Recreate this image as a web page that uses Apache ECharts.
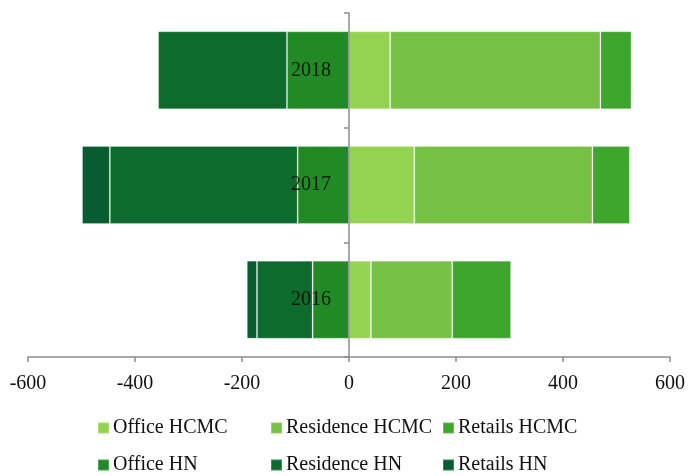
<!DOCTYPE html>
<html>
<head>
<meta charset="utf-8">
<script src="https://cdn.jsdelivr.net/npm/echarts@6/dist/echarts.min.js"></script>
<style>
  html, body { margin: 0; padding: 0; background: #fff; }
  #chart { width: 689px; height: 476px; }
</style>
</head>
<body>
<div id="chart"></div>
<script>
// Years on the category axis (bottom to top)
var years = ['2016', '2017', '2018'];

// HCMC supply (plotted to the right)
var officeHCMC = [41, 122, 77];
var residenceHCMC = [152, 333, 393];
var retailsHCMC = [110, 70, 58];

// HN supply (plotted to the left as negative values)
var officeHN = [-68, -96, -116];
var residenceHN = [-104, -351, -241];
var retailsHN = [-19, -52, 0];

// Value axis ticks
var xMin = -600, xMax = 600, xStep = 200;

var seriesDefs = [
  { name: 'Office HCMC', data: officeHCMC, color: '#94D251' },
  { name: 'Residence HCMC', data: residenceHCMC, color: '#76C143' },
  { name: 'Retails HCMC', data: retailsHCMC, color: '#3EA52D' },
  { name: 'Office HN', data: officeHN, color: '#228A24' },
  { name: 'Residence HN', data: residenceHN, color: '#0C6B2D' },
  { name: 'Retails HN', data: retailsHN, color: '#075D30' }
];

var font = '"Liberation Serif", "Times New Roman", serif';
var axisGrey = '#8c8c8c';

var chart = echarts.init(document.getElementById('chart'), null, { renderer: 'canvas' });

// One legend per entry so the three columns line up on both rows
var legendCols = [97, 270, 442];
var legendRows = [418, 455];
var legends = seriesDefs.map(function (s, i) {
  return {
    data: [s.name],
    left: legendCols[i % 3],
    top: legendRows[Math.floor(i / 3)],
    padding: 0,
    itemWidth: 11,
    itemHeight: 11,
    itemGap: 0,
    icon: 'rect',
    selectedMode: false,
    textStyle: { fontFamily: font, fontSize: 20, color: '#111', padding: [0, 0, 0, -1] }
  };
});

var series = seriesDefs.map(function (s) {
  return {
    name: s.name,
    type: 'bar',
    stack: 'supply',
    barCategoryGap: '32%',
    data: s.data,
    itemStyle: { color: s.color, borderColor: 'rgba(255,255,255,0.22)', borderWidth: 1 }
  };
});

// Year labels sitting just left of the zero line
series.push({
  name: 'years',
  type: 'scatter',
  data: years.map(function (y) { return [0, y]; }),
  symbolSize: 0,
  silent: true,
  z: 20,
  label: {
    show: true,
    position: 'left',
    distance: 18,
    formatter: function (p) { return p.value[1]; },
    fontFamily: font,
    fontSize: 20,
    color: '#000'
  }
});

chart.setOption({
  animation: false,
  grid: { left: 28, right: 19, top: 13, bottom: 119, containLabel: false, outerBoundsMode: 'none' },
  legend: legends,
  xAxis: {
    type: 'value',
    min: xMin,
    max: xMax,
    interval: xStep,
    splitLine: { show: false },
    axisLine: { show: true, lineStyle: { color: axisGrey, width: 1.5 } },
    axisTick: { show: true, length: 5, lineStyle: { color: axisGrey, width: 1.5 } },
    axisLabel: { fontFamily: font, fontSize: 20, color: '#111', margin: 17 }
  },
  yAxis: {
    type: 'category',
    data: years,
    z: 10,
    axisLine: { onZero: true, lineStyle: { color: axisGrey, width: 1.5 } },
    axisTick: { show: true, length: 5, lineStyle: { color: axisGrey, width: 1.5 } },
    axisLabel: { show: false }
  },
  series: series
});
</script>
</body>
</html>
